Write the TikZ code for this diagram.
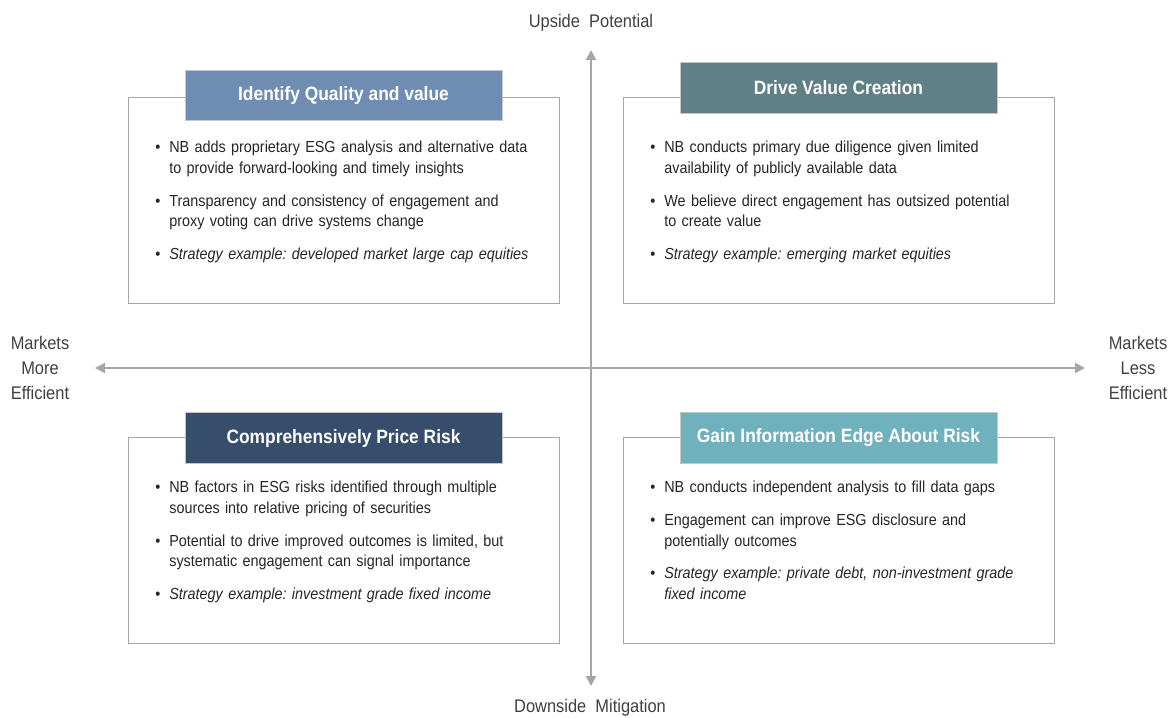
\documentclass[tikz,border=0pt]{standalone}
\usepackage{fontspec}
\setmainfont[FakeStretch=0.9]{Liberation Sans}
\usepackage{xcolor}
\usepackage{enumitem}
\usepackage{tikz}
\usetikzlibrary{arrows.meta}
\definecolor{hdsteel}{HTML}{6F8DB2}
\definecolor{hdslate}{HTML}{5E8086}
\definecolor{hdnavy}{HTML}{364E6C}
\definecolor{hdaqua}{HTML}{6FB2BD}
\definecolor{axisgray}{HTML}{A6A6A6}
\definecolor{framegray}{HTML}{A6A6A6}
\definecolor{labelgray}{HTML}{404040}
\setlist[itemize]{label=\textbullet, leftmargin=0.3cm, labelsep=0.18cm, itemsep=6.8pt, parsep=0pt, topsep=0pt, partopsep=0pt}
\frenchspacing

\begin{document}
\begin{tikzpicture}[x=0.02cm, y=-0.02cm,
	quadbox/.style={rectangle, draw=framegray, line width=0.6pt, fill=white, minimum width=8.62cm, minimum height=4.12cm, anchor=north west},
	headbox/.style={rectangle, draw=gray!45, line width=0.4pt, minimum width=6.34cm, minimum height=1.01cm, text=white, font=\fontsize{11}{13}\bfseries},
	bullets/.style={anchor=north west, inner sep=0pt, text width=8cm, text=black!85, font=\fontsize{9.1}{11.9}\selectfont},
	axislabel/.style={text=labelgray, align=center, font=\fontsize{10.4}{14.2}\selectfont},
	axisline/.style={axisgray, line width=1.1pt, {Triangle[length=0.2cm, width=0.2cm]}-{Triangle[length=0.2cm, width=0.2cm]}}]

\useasboundingbox (0,0) rectangle (1173,717);

% axes
\node[axislabel] at (591,23) (uplbl) {Upside\ \ Potential};
\node[axislabel] at (590,708) (downlbl) {Downside\ \ Mitigation};
\node[axislabel] at (40,368) (leftlbl) {Markets\\More\\Efficient};
\node[axislabel] at (1138,368) (rightlbl) {Markets\\Less\\Efficient};
\coordinate (ytop) at (591,50);
\coordinate (ybot) at (591,686);
\coordinate (xleft) at (95,368);
\coordinate (xright) at (1085,368);
\draw[axisline] (xleft) -- (xright);
\draw[axisline] (ytop) -- (ybot);

% quadrant frames
\node[quadbox] at (128,97) (tlbox) {};
\node[quadbox] at (623,97) (trbox) {};
\node[quadbox] at (128,437) (blbox) {};
\node[quadbox] at (623,437) (brbox) {};

% headers
\node[headbox, fill=hdsteel] at (343.5,95.5) (tlhead) {Identify Quality and value};
\node[headbox, fill=hdslate] at (838.5,88) (trhead) {Drive Value Creation};
\node[headbox, fill=hdnavy] at (343.5,438) (blhead) {Comprehensively Price Risk};
\node[headbox, fill=hdaqua] at (838.5,438) (brhead) {Gain Information Edge About Risk};

% bullet texts
\node[bullets] at (154,131) (tltext) {\begin{itemize}
\item NB adds proprietary ESG analysis and alternative data\\to provide forward-looking and timely insights
\item Transparency and consistency of engagement and\\proxy voting can drive systems change
\item \textit{Strategy example: developed market large cap equities}
\end{itemize}};
\node[bullets] at (649,131) (trtext) {\begin{itemize}
\item NB conducts primary due diligence given limited\\availability of publicly available data
\item We believe direct engagement has outsized potential\\to create value
\item \textit{Strategy example: emerging market equities}
\end{itemize}};
\node[bullets] at (154,471) (bltext) {\begin{itemize}
\item NB factors in ESG risks identified through multiple\\sources into relative pricing of securities
\item Potential to drive improved outcomes is limited, but\\systematic engagement can signal importance
\item \textit{Strategy example: investment grade fixed income}
\end{itemize}};
\node[bullets] at (649,471) (brtext) {\begin{itemize}
\item NB conducts independent analysis to fill data gaps
\item Engagement can improve ESG disclosure and\\potentially outcomes
\item \textit{Strategy example: private debt, non-investment grade\\fixed income}
\end{itemize}};

\end{tikzpicture}
\end{document}
